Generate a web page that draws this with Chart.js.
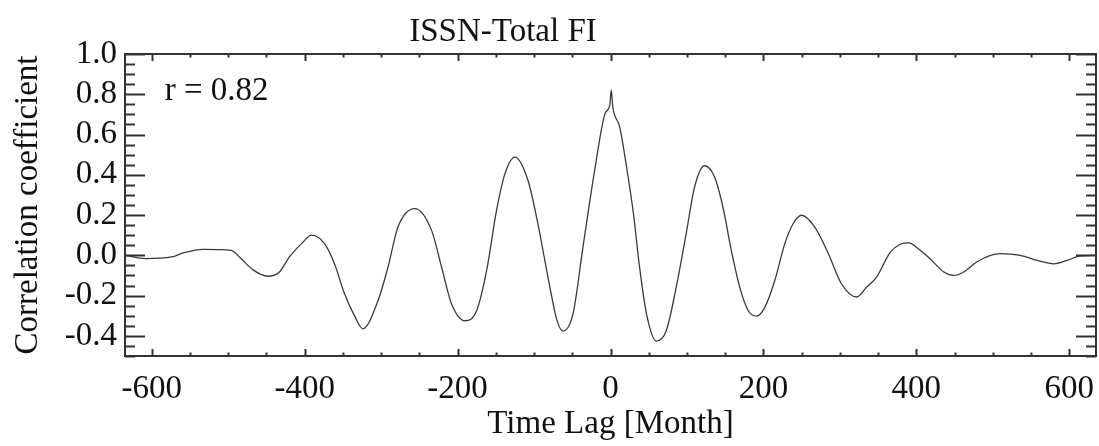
<!DOCTYPE html>
<html>
<head>
<meta charset="utf-8">
<script src="https://cdn.jsdelivr.net/npm/chart.js@4.4.0/dist/chart.umd.min.js"></script>
<style>
  html, body { margin: 0; padding: 0; background: #fff; }
  canvas { display: block; }
</style>
</head>
<body>
<canvas id="ccf" width="1099" height="446"></canvas>
<script>
// Labels
const chartTitle = 'ISSN-Total FI';
const corrLabel = 'r = 0.82';
const xTitle = 'Time Lag [Month]';
const yTitle = 'Correlation coefficient';

// Axes
const xTicks = [-600, -400, -200, 0, 200, 400, 600];
const yTicks = [-0.4, -0.2, 0.0, 0.2, 0.4, 0.6, 0.8, 1.0];
const xRange = [-635, 635];
const yRange = [-0.5, 1.0];

// Cross-correlation curve
const lags = [
  -635, -609, -574, -559, -533, -496, -483, -468, -448, -433, -420, -404, -391, -374,
  -361, -348, -334, -324, -304, -291, -278, -256, -234, -221, -208, -190, -175, -162,
  -149, -138, -125, -108, -95, -81, -70, -62, -49, -36, -20, -7, -1, 1, 3, 12, 21, 30,
  38, 47, 60, 73, 86, 99, 110, 123, 136, 147, 158, 169, 180, 191, 202, 215, 228, 239,
  250, 267, 285, 302, 322, 335, 348, 366, 379, 390, 405, 418, 436, 449, 462, 479, 497,
  510, 536, 558, 580, 597, 615, 635
];
const corr = [
  0.0, -0.016, -0.008, 0.012, 0.030, 0.025, -0.017, -0.071, -0.104, -0.083, -0.008, 0.058, 0.100, 0.058,
  -0.042, -0.19, -0.307, -0.365, -0.224, -0.058, 0.141, 0.232, 0.124, -0.058, -0.240, -0.325, -0.274, -0.075,
  0.224, 0.406, 0.488, 0.373, 0.158, -0.124, -0.323, -0.376, -0.29, 0.041, 0.439, 0.705, 0.745, 0.82, 0.738, 0.638, 0.439, 0.207,
  -0.058, -0.29, -0.426, -0.373, -0.158, 0.108, 0.34, 0.445, 0.39, 0.24, 0.025, -0.158, -0.274, -0.302, -0.257, -0.124, 0.058, 0.158,
  0.199, 0.141, 0.008, -0.141, -0.207, -0.158, -0.108, 0.016, 0.055, 0.062, 0.025, -0.017, -0.083, -0.1, -0.083, -0.033, 0.0,
  0.008, 0.0, -0.025, -0.042, -0.025, -0.003, 0.0
];

const serif = '"Liberation Serif", "DejaVu Serif", serif';
const ink = '#111';

// IDL style frame with inward ticks on all four sides
const boxTicks = {
  id: 'boxTicks',
  afterDatasetsDraw(chart) {
    const { ctx, chartArea: a, scales: { x, y } } = chart;
    ctx.save();
    ctx.strokeStyle = '#333';
    ctx.lineWidth = 2;
    ctx.strokeRect(a.left, a.top, a.right - a.left, a.bottom - a.top);
    ctx.beginPath();
    for (let v = -600; v <= 600; v += 50) {
      const px = Math.round(x.getPixelForValue(v)) + 0.5;
      const len = v % 200 === 0 ? 7 : 3.5;
      ctx.moveTo(px, a.bottom); ctx.lineTo(px, a.bottom - len);
      ctx.moveTo(px, a.top); ctx.lineTo(px, a.top + len);
    }
    for (let i = -10; i <= 20; i++) {
      const py = Math.round(y.getPixelForValue(i * 0.05)) + 0.5;
      const len = i % 4 === 0 ? 20 : 10;
      ctx.moveTo(a.left, py); ctx.lineTo(a.left + len, py);
      ctx.moveTo(a.right, py); ctx.lineTo(a.right - len, py);
    }
    ctx.stroke();
    ctx.restore();
  },
  afterDraw(chart) {
    const { ctx, scales: { x, y } } = chart;
    ctx.save();
    ctx.fillStyle = ink;
    ctx.font = '33px ' + serif;
    ctx.textBaseline = 'alphabetic';
    ctx.textAlign = 'center';
    ctx.fillText(chartTitle, 503, 41);
    ctx.textAlign = 'left';
    ctx.fillText(corrLabel, x.getPixelForValue(-583), y.getPixelForValue(0.771));
    ctx.restore();
  }
};

const ctx = document.getElementById('ccf').getContext('2d');
const chart = new Chart(ctx, {
  type: 'line',
  data: {
    datasets: [{
      data: lags.map((l, i) => ({ x: l, y: corr[i] })),
      borderColor: '#3a3a3a',
      borderWidth: 1.3,
      pointRadius: 0,
      tension: 0.4,
      cubicInterpolationMode: 'monotone',
      fill: false
    }]
  },
  options: {
    responsive: false,
    animation: false,
    layout: { padding: { top: 54, right: 3, left: 0, bottom: 0 } },
    plugins: {
      legend: { display: false },
      tooltip: { enabled: false },
      title: { display: false }
    },
    scales: {
      x: {
        type: 'linear',
        min: xRange[0],
        max: xRange[1],
        afterBuildTicks: s => { s.ticks = xTicks.map(v => ({ value: v })); },
        afterFit: s => { s.height = 90; s.paddingLeft = 0; s.paddingRight = 0; },
        grid: { display: false, drawTicks: false },
        border: { display: false },
        ticks: {
          padding: 14,
          color: ink,
          font: { family: serif, size: 33 },
          maxRotation: 0,
          callback: v => String(v)
        },
        title: {
          display: true,
          text: xTitle,
          color: ink,
          font: { family: serif, size: 33 },
          padding: { top: 0, bottom: 2 }
        }
      },
      y: {
        min: yRange[0],
        max: yRange[1],
        afterBuildTicks: s => { s.ticks = yTicks.map(v => ({ value: v })); },
        afterFit: s => { s.width = 125; },
        grid: { display: false, drawTicks: false },
        border: { display: false },
        ticks: {
          padding: 8,
          color: ink,
          font: { family: serif, size: 33 },
          callback: v => Number(v).toFixed(1)
        },
        title: {
          display: true,
          text: yTitle,
          color: ink,
          font: { family: serif, size: 33 },
          padding: { top: 9, bottom: 0 }
        }
      }
    }
  },
  plugins: [boxTicks]
});
</script>
</body>
</html>
